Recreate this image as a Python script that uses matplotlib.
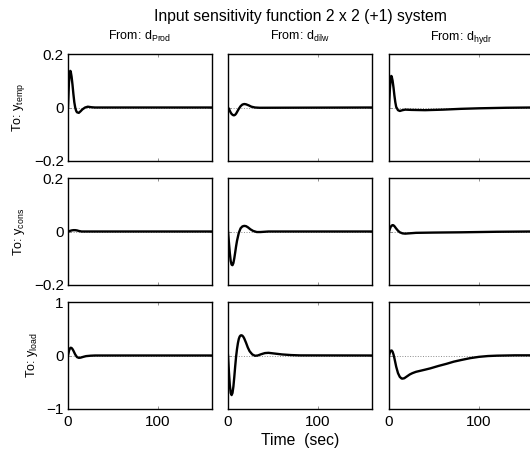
import numpy as np
import matplotlib
matplotlib.use('Agg')
from matplotlib import pyplot as plt

plt.rcParams['font.family'] = ['Liberation Sans', 'DejaVu Sans']
plt.rcParams['mathtext.default'] = 'regular'

# step responses: (time, value) per panel, row by row
t11 = [0, 1, 2, 2.5, 3, 4, 5, 6, 7, 8, 9, 10, 12, 14, 16, 19, 22, 26, 30, 160]
y11 = [0, 0.09, 0.13, 0.137, 0.135, 0.115, 0.085, 0.05, 0.02, 0.0, -0.012, -0.018, -0.02,
       -0.014, -0.007, 0.0, 0.003, 0.001, 0, 0]

t12 = [0, 1, 2, 3, 4, 5, 6, 7, 8, 9, 10, 12, 14, 16, 18, 20, 23, 26, 30, 35, 160]
y12 = [0, -0.005, -0.012, -0.019, -0.024, -0.027, -0.029, -0.029, -0.027, -0.023, -0.017,
       -0.005, 0.005, 0.011, 0.013, 0.012, 0.008, 0.003, 0.0, -0.001, 0]

t13 = [0, 1, 2, 2.5, 3, 4, 5, 6, 7, 8, 10, 12, 15, 18, 25, 40, 60, 80, 100, 130, 160]
y13 = [0, 0.07, 0.11, 0.118, 0.116, 0.1, 0.075, 0.045, 0.02, 0.002, -0.01, -0.013, -0.01,
       -0.008, -0.009, -0.01, -0.008, -0.005, -0.003, -0.001, 0]

t21 = [0, 2, 4, 6, 8, 10, 12, 15, 20, 160]
y21 = [0, 0.002, 0.004, 0.005, 0.005, 0.004, 0.002, 0.0, 0, 0]

t22 = [0, 1, 2, 3, 4, 5, 6, 7, 8, 9, 10, 12, 14, 16, 18, 20, 22, 25, 28, 32, 36, 45, 160]
y22 = [0, -0.04, -0.08, -0.11, -0.124, -0.126, -0.118, -0.1, -0.078, -0.055, -0.035, -0.005,
       0.012, 0.019, 0.021, 0.02, 0.016, 0.008, 0.002, -0.002, -0.002, 0, 0]

t23 = [0, 1, 2, 3, 4, 5, 6, 8, 10, 12, 15, 18, 22, 30, 50, 80, 120, 160]
y23 = [0, 0.01, 0.018, 0.022, 0.024, 0.023, 0.02, 0.011, 0.003, -0.003, -0.007, -0.008,
       -0.007, -0.005, -0.004, -0.003, -0.001, 0]

t31 = [0, 1, 2, 3, 4, 5, 6, 7, 8, 10, 12, 14, 17, 20, 25, 30, 160]
y31 = [0, 0.08, 0.13, 0.145, 0.14, 0.12, 0.09, 0.055, 0.02, -0.03, -0.044, -0.04, -0.025,
       -0.012, -0.004, 0, 0]

t32 = [0, 1, 2, 3, 4, 5, 6, 7, 8, 9, 10, 11, 12, 13, 14, 15, 16, 17, 18, 20, 22, 24, 27, 30,
       33, 37, 41, 45, 50, 60, 70, 80, 160]
y32 = [0, -0.3, -0.55, -0.7, -0.74, -0.7, -0.58, -0.4, -0.2, -0.02, 0.12, 0.23, 0.31, 0.355,
       0.375, 0.378, 0.37, 0.35, 0.32, 0.24, 0.15, 0.08, 0.02, -0.005, 0.0, 0.025, 0.045,
       0.05, 0.04, 0.02, 0.008, 0.002, 0]

t33 = [0, 1, 2, 3, 4, 5, 6, 7, 8, 10, 12, 14, 15, 17, 20, 23, 26, 30, 35, 40, 46, 55, 64,
       72, 80, 90, 100, 110, 120, 140, 160]
y33 = [0, 0.06, 0.09, 0.093, 0.07, 0.02, -0.05, -0.13, -0.21, -0.33, -0.40, -0.43, -0.432,
       -0.425, -0.39, -0.355, -0.33, -0.305, -0.285, -0.265, -0.24, -0.195, -0.155, -0.115,
       -0.085, -0.05, -0.025, -0.01, -0.003, 0.003, 0.003]

inputs = ['Prod', 'dilw', 'hydr']
outputs = ['temp', 'cons', 'load']
ylims = [0.2, 0.2, 1]
ytick_labels = [['\u22120.2', '0', '0.2'], ['\u22120.2', '0', '0.2'], ['\u22121', '0', '1']]
xticks = [0, 100]

series = [[(t11, y11), (t12, y12), (t13, y13)],
          [(t21, y21), (t22, y22), (t23, y23)],
          [(t31, y31), (t32, y32), (t33, y33)]]

W, H = 530, 451
fig = plt.figure(figsize=(5.3, 4.51), dpi=100)

lefts = [68, 228, 389]
tops = [54, 178, 302]
aw, ah = 144, 107

for i in range(3):
    for j in range(3):
        ax = fig.add_axes([lefts[j] / W, 1 - (tops[i] + ah) / H, aw / W, ah / H])
        t, y = series[i][j]
        ax.plot([0, 160], [0, 0], ':', color='0.55', lw=0.7)
        ax.plot(t, y, color='k', lw=1.7)
        ax.set_xlim(0, 160)
        ax.set_ylim(-ylims[i], ylims[i])
        ax.set_xticks(xticks)
        ax.set_yticks([-ylims[i], 0, ylims[i]])
        ax.tick_params(direction='in', length=2.5, width=0.5, top=True, right=True,
                       color='0.4', labelsize=11)
        ax.tick_params(axis='x', pad=4)
        ax.tick_params(axis='y', pad=3)
        for s in ax.spines.values():
            s.set_linewidth(1.0)
        if j == 0:
            ax.set_yticklabels(ytick_labels[i])
            ax.set_ylabel('To: y$_{' + outputs[i] + '}$', fontsize=9, labelpad=5)
        else:
            ax.set_yticklabels([])
        if i == 2:
            ax.set_xticklabels(['0', '100'])
        else:
            ax.set_xticklabels([])
        if i == 0:
            ax.set_title('From: d$_{' + inputs[j] + '}$', fontsize=9, pad=10)

fig.text(300 / W, 1 - 17 / H, 'Input sensitivity function 2 x 2 (+1) system',
         ha='center', va='center', fontsize=11.3)
fig.text(300 / W, 1 - 440 / H, 'Time  (sec)', ha='center', va='center', fontsize=11.3)

fig.savefig('out.png', dpi=100)
